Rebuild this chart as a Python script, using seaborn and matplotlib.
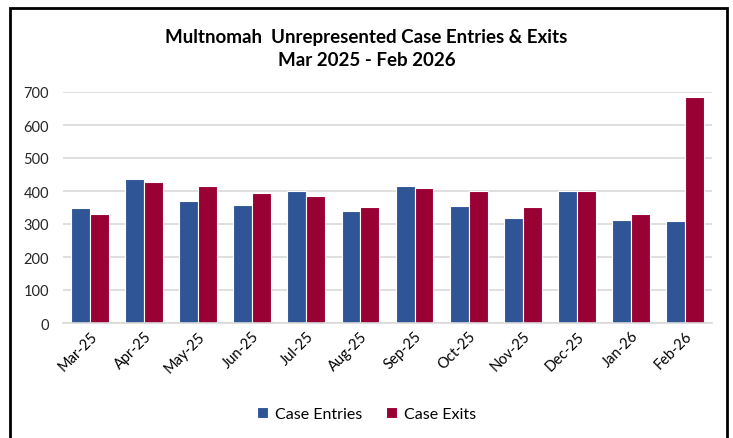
import pandas as pd
import seaborn as sns
import matplotlib.pyplot as plt
from matplotlib.patches import Rectangle

months = ["Mar-25", "Apr-25", "May-25", "Jun-25", "Jul-25", "Aug-25",
          "Sep-25", "Oct-25", "Nov-25", "Dec-25", "Jan-26", "Feb-26"]
case_entries = [350, 437, 369, 357, 401, 339, 415, 355, 318, 401, 312, 308]
case_exits = [330, 427, 415, 394, 385, 352, 409, 401, 352, 401, 330, 686]

df = pd.DataFrame({
    "Month": months * 2,
    "Count": case_entries + case_exits,
    "Series": ["Case Entries"] * len(months) + ["Case Exits"] * len(months),
})

sns.set_style("white")
plt.rcParams["font.family"] = ["Lato", "DejaVu Sans"]
plt.rcParams["text.color"] = "black"

fig = plt.figure(figsize=(7.33, 4.39), dpi=100)
ax = fig.add_axes([63 / 733, 1 - 324 / 439, (712 - 63) / 733, (324 - 93) / 439])

sns.barplot(data=df, x="Month", y="Count", hue="Series",
            palette={"Case Entries": "#2F5597", "Case Exits": "#990033"},
            saturation=1, width=0.7, edgecolor="white", linewidth=0.8, ax=ax)

ax.set_ylim(0, 700)
ax.set_yticks(range(0, 701, 100))
ax.yaxis.grid(True, color="#D9D9D9", linewidth=1.2)
ax.set_axisbelow(True)
for s in ["left", "right", "top"]:
    ax.spines[s].set_visible(False)
ax.spines["bottom"].set_color("#D9D9D9")
ax.spines["bottom"].set_linewidth(1.2)
ax.set_xlabel("")
ax.set_ylabel("")
ax.tick_params(axis="y", labelsize=10.5, colors="#262626", length=0, pad=10)
ax.tick_params(axis="x", labelsize=10.5, colors="#000000", length=0, pad=4)
plt.setp(ax.get_xticklabels(), rotation=45, ha="right", rotation_mode="anchor")

ax.legend(loc="center", bbox_to_anchor=(0.5, (439 - 415) / 439), bbox_transform=fig.transFigure,
          ncol=2, frameon=False, fontsize=11.5, handlelength=0.7, handleheight=0.7,
          columnspacing=1.5, handletextpad=0.4)

fig.text(0.5, 1 - 37 / 439, "Multnomah  Unrepresented Case Entries & Exits",
         ha="center", va="center", fontsize=13.5, fontweight="bold", color="black")
fig.text(0.5, 1 - 60 / 439, "Mar 2025 - Feb 2026",
         ha="center", va="center", fontsize=13.5, fontweight="bold", color="black")

fig.patches.append(Rectangle((10 / 733, -0.05), (727 - 10) / 733, 1 - 9 / 439 + 0.05,
                             transform=fig.transFigure, fill=False,
                             edgecolor="black", linewidth=2))

fig.savefig("out.png", dpi=100)
